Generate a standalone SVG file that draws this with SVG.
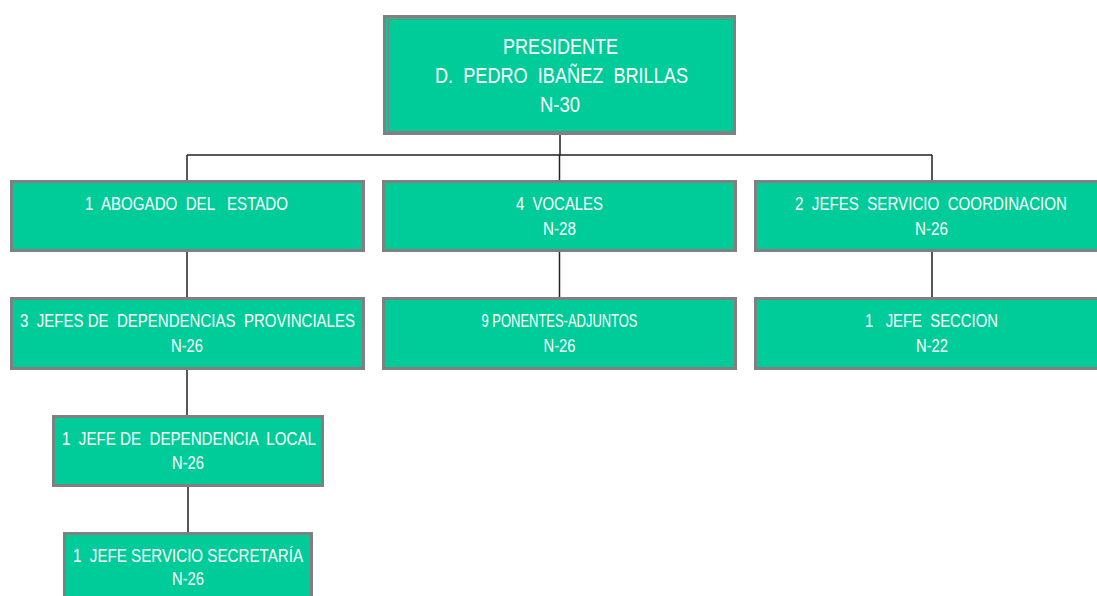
<svg xmlns="http://www.w3.org/2000/svg" width="1097" height="596" viewBox="0 0 1097 596">
<style>
.box{fill:#00CC99;stroke:#808080;stroke-width:3}
.inner{fill:none;stroke:#808080;stroke-width:1}
.t{font-family:"Liberation Sans",Arial,sans-serif;fill:#ffffff;text-anchor:middle;white-space:pre}
.big{font-size:22px}
.sm{font-size:18px}
.conn{stroke:#222222;stroke-width:1.5;fill:none}
</style>
<rect width="1097" height="596" fill="#ffffff"/>
<g id="connectors">
<path class="conn" d="M560 135V155M187 155H932M187 155V181M559.5 155V181M932 155V181M187 252V297M559.5 252V297M932 252V297M187 370V415M188 487V532"/>
</g>
<g id="presidente">
<rect class="box" x="384.5" y="16.5" width="350" height="117"/>
<rect class="inner" x="388.5" y="19.5" width="343" height="112"/>
<text class="t big" x="560.5" y="54" textLength="115" lengthAdjust="spacingAndGlyphs">PRESIDENTE</text>
<text class="t big" x="561.5" y="83" textLength="253" lengthAdjust="spacingAndGlyphs">D.  PEDRO  IBAÑEZ  BRILLAS</text>
<text class="t big" x="560" y="112" textLength="40" lengthAdjust="spacingAndGlyphs">N-30</text>
</g>
<g id="abogado">
<rect class="box" x="11.5" y="181.5" width="352" height="69"/>
<text class="t sm" x="186.5" y="210" textLength="203" lengthAdjust="spacingAndGlyphs">1  ABOGADO  DEL   ESTADO</text>
</g>
<g id="vocales">
<rect class="box" x="383.5" y="181.5" width="352" height="69"/>
<text class="t sm" x="559.5" y="210" textLength="87" lengthAdjust="spacingAndGlyphs">4  VOCALES</text>
<text class="t sm" x="559.5" y="235" textLength="33" lengthAdjust="spacingAndGlyphs">N-28</text>
</g>
<g id="coordinacion">
<rect class="box" x="755.5" y="181.5" width="352" height="69"/>
<text class="t sm" x="931" y="210" textLength="272" lengthAdjust="spacingAndGlyphs">2  JEFES  SERVICIO  COORDINACION</text>
<text class="t sm" x="931.5" y="235" textLength="33" lengthAdjust="spacingAndGlyphs">N-26</text>
</g>
<g id="provinciales">
<rect class="box" x="11.5" y="298.5" width="352" height="70"/>
<text class="t sm" x="187.5" y="327" textLength="335" lengthAdjust="spacingAndGlyphs">3  JEFES DE  DEPENDENCIAS  PROVINCIALES</text>
<text class="t sm" x="187" y="352" textLength="32" lengthAdjust="spacingAndGlyphs">N-26</text>
</g>
<g id="ponentes">
<rect class="box" x="383.5" y="298.5" width="352" height="70"/>
<text class="t sm" x="559.5" y="327" textLength="156" lengthAdjust="spacingAndGlyphs">9 PONENTES-ADJUNTOS</text>
<text class="t sm" x="559.5" y="352" textLength="32" lengthAdjust="spacingAndGlyphs">N-26</text>
</g>
<g id="seccion">
<rect class="box" x="755.5" y="298.5" width="352" height="70"/>
<text class="t sm" x="931.5" y="327" textLength="133" lengthAdjust="spacingAndGlyphs">1   JEFE  SECCION</text>
<text class="t sm" x="932" y="352" textLength="32" lengthAdjust="spacingAndGlyphs">N-22</text>
</g>
<g id="local">
<rect class="box" x="53.5" y="416.5" width="269" height="69"/>
<text class="t sm" x="189" y="445" textLength="254" lengthAdjust="spacingAndGlyphs">1  JEFE DE  DEPENDENCIA  LOCAL</text>
<text class="t sm" x="188" y="469" textLength="32" lengthAdjust="spacingAndGlyphs">N-26</text>
</g>
<g id="secretaria">
<rect class="box" x="64.5" y="533.5" width="247" height="70"/>
<text class="t sm" x="188" y="562" textLength="230" lengthAdjust="spacingAndGlyphs">1  JEFE SERVICIO SECRETARÍA</text>
<text class="t sm" x="188" y="585" textLength="32" lengthAdjust="spacingAndGlyphs">N-26</text>
</g>
</svg>
